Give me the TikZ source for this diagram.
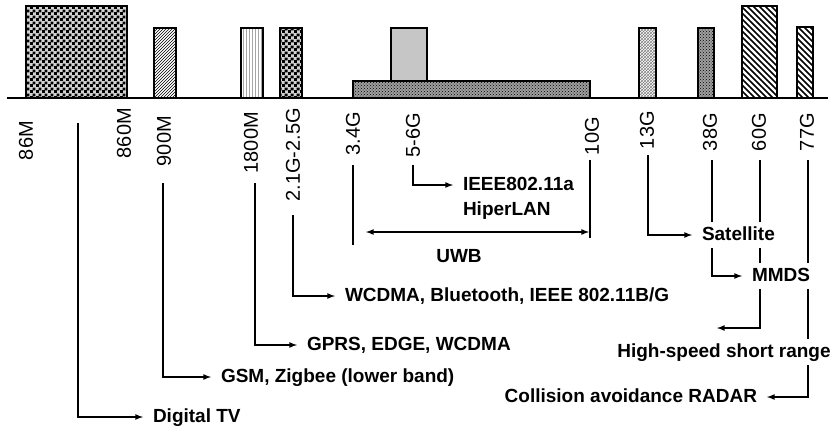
\documentclass[tikz,border=0pt]{standalone}
\usepackage{fontspec}
\setmainfont{Liberation Sans}
\setsansfont{Liberation Sans}
\usepackage{tikz}
\usetikzlibrary{arrows,patterns,backgrounds}

\pgfdeclarepatternformonly{bigchecker}{\pgfpointorigin}{\pgfqpoint{6pt}{6pt}}{\pgfqpoint{6pt}{6pt}}%
{\pgfpathrectangle{\pgfpointorigin}{\pgfqpoint{3.3pt}{3.3pt}}%
 \pgfpathrectangle{\pgfqpoint{3pt}{3pt}}{\pgfqpoint{3.3pt}{3.3pt}}\pgfusepath{fill}}
\pgfdeclarepatternformonly{widestripes}{\pgfqpoint{-1pt}{-1pt}}{\pgfqpoint{7pt}{7pt}}{\pgfqpoint{6pt}{6pt}}%
{\pgfsetlinewidth{1.6pt}\pgfpathmoveto{\pgfqpoint{0pt}{6pt}}\pgfpathlineto{\pgfqpoint{6pt}{0pt}}\pgfusepath{stroke}}

\begin{document}
\begin{tikzpicture}[x=1pt,y=-1pt,>=latex,
  band/.style={draw,line width=1.5pt},
  freq/.style={rotate=90,anchor=east,inner sep=0pt,font=\sffamily\fontsize{20}{20}\selectfont},
  app/.style={anchor=west,fill=white,inner xsep=1pt,inner ysep=4pt,outer xsep=9pt,
    text height=14pt,text depth=4pt,font=\sffamily\bfseries\fontsize{19}{19}\selectfont},
  link/.style={->,line width=1.6pt}]
\useasboundingbox (0,0) rectangle (833,429);
\draw[line width=1.5pt] (7,98) -- (828,98);
\draw[band,preaction={fill=gray!35},pattern=bigchecker] (26,6) rectangle (127,98);
\draw[band,pattern=north east lines] (154,28) rectangle (176,98);
\draw[band,pattern=vertical lines,pattern color=gray!70] (241,28) rectangle (263,98);
\draw[band,preaction={fill=gray!35},pattern=bigchecker] (280,28) rectangle (302,98);
\draw[band,fill=gray!45] (391,28) rectangle (427,81);
\draw[band,preaction={fill=gray!75},pattern=crosshatch dots] (353,81) rectangle (590,98);
\draw[band,pattern=crosshatch,pattern color=gray] (639,28) rectangle (656,98);
\draw[band,preaction={fill=gray!75},pattern=crosshatch dots] (698,28) rectangle (714,98);
\draw[band,pattern=widestripes] (742,6) rectangle (777,98);
\draw[band,pattern=widestripes] (797,27) rectangle (813,98);

\node[freq] (m86) at (26,121) {86M};
\node[freq] (m860) at (124,108) {860M};
\node[freq] (m900) at (164,116) {900M};
\node[freq] (m1800) at (251,112) {1800M};
\node[freq] (g21) at (293,108) {2.1G-2.5G};
\node[freq] (g34) at (353,112) {3.4G};
\node[freq] (g56) at (413,113) {5-6G};
\node[freq] (g10) at (592,117) {10G};
\node[freq] (g13) at (647,111) {13G};
\node[freq] (g38) at (710,113) {38G};
\node[freq] (g60) at (759,113) {60G};
\node[freq] (g77) at (807,113) {77G};

\coordinate (tv) at (78,123);
\coordinate (f900) at (163,183);
\coordinate (f1800) at (255,183);
\coordinate (f21) at (293,215);
\coordinate (f34) at (353,165);
\coordinate (f34b) at (353,245);
\coordinate (f56) at (413,165);
\coordinate (f10) at (590,160);
\coordinate (f10b) at (590,238);
\coordinate (f13) at (648,155);
\coordinate (f38) at (712,160);
\coordinate (f60) at (760,160);
\coordinate (f77) at (808,160);
\coordinate (uwbl) at (366,232);
\coordinate (uwbr) at (589,232);
\coordinate (hsend) at (717,328);

\node[app] (dtv) at (143,417) {Digital TV};
\node[app] (gsm) at (211,377) {GSM, Zigbee (lower band)};
\node[app] (gprs) at (297,345) {GPRS, EDGE, WCDMA};
\node[app] (wcdma) at (335,296) {WCDMA, Bluetooth, IEEE 802.11B/G};
\node[app] (ieee) at (453,185) {IEEE802.11a};
\node[app] (hiper) at (453,210) {HiperLAN};
\node[app,anchor=center] (uwb) at (459,257) {UWB};
\node[app] (sat) at (692,235) {Satellite};
\node[app] (mmds) at (742,276) {MMDS};
\node[app,anchor=center] (hs) at (724,352) {High-speed short range};
\node[app,anchor=east] (radar) at (767,397) {Collision avoidance RADAR};

\begin{pgfonlayer}{background}
\draw[link] (tv) |- (dtv);
\draw[link] (f900) |- (gsm);
\draw[link] (f1800) |- (gprs);
\draw[link] (f21) |- (wcdma);
\draw[line width=1.6pt] (f34) -- (f34b);
\draw[line width=1.6pt] (f10) -- (f10b);
\draw[link] (f56) |- (ieee);
\draw[link,<->] (uwbl) -- (uwbr);
\draw[link] (f13) |- (sat);
\draw[link] (f38) |- (mmds);
\draw[link] (f60) |- (hsend);
\draw[link] (f77) |- (radar);
\end{pgfonlayer}
\end{tikzpicture}
\end{document}
